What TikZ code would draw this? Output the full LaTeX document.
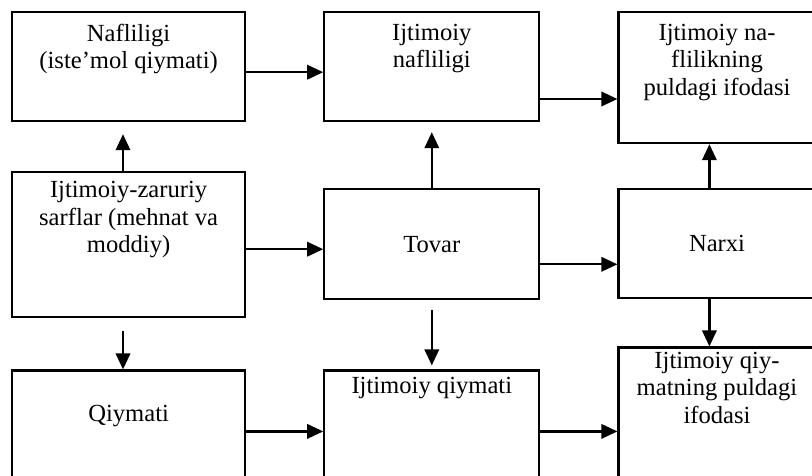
\documentclass[tikz,border=0pt]{standalone}
\usepackage{fontspec}
\setmainfont{Liberation Serif}
\usetikzlibrary{positioning,arrows.meta}

\begin{document}
\begin{tikzpicture}[
  font=\fontsize{17.5}{19.5}\selectfont,
  every node/.style={align=center},
  box/.style   ={rectangle, draw=black, line width=0.55mm, inner sep=0pt},
  wide/.style  ={box, minimum width=58.25mm},
  mid/.style   ={box, minimum width=53.75mm},
  narrow/.style={box, minimum width=49.25mm},
  txt/.style   ={inner sep=0pt},
  arrow/.style ={-{Triangle[length=4mm, width=3.6mm]}, line width=0.55mm},
]

\useasboundingbox (0,0) rectangle (203mm,-119mm);

% Top row
\node[wide,   minimum height=27.25mm, anchor=north west] (naf) at (2.75mm,-2.75mm) {};
\node[mid,    minimum height=27.25mm, right=19.25mm of naf] (ijnaf) {};
\node[narrow, minimum height=32.75mm, right=19.25mm of ijnaf.north east, anchor=north west] (ijnafpul) {};

% Middle row
\node[wide,   minimum height=36.25mm, below=12.25mm of naf]      (sarf)  {};
\node[mid,    minimum height=27.5mm,  below=16.5mm of ijnaf]     (tovar) {Tovar};
\node[narrow, minimum height=27.25mm, below=11mm of ijnafpul]    (narx)  {Narxi};

% Bottom row
\node[wide,   minimum height=27.25mm, below=12.75mm of sarf]  (qiym)      {};
\node[mid,    minimum height=27.25mm, below=17.25mm of tovar] (ijqiym)    {};
\node[narrow, minimum height=33mm,    below=11.75mm of narx]  (ijqiympul) {};

% -------- box texts -------------------------------------------------------
\node[txt, below=3.2mm of naf.north]       (naf-t)       {Nafliligi\\(iste'mol qiymati)};
\node[txt, below=3.2mm of ijnaf.north]     (ijnaf-t)     {Ijtimoiy\\nafliligi};
\node[txt, below=3.2mm of ijnafpul.north]  (ijnafpul-t)  {Ijtimoiy na-\\flilikning\\puldagi ifodasi};
\node[txt, below=2.5mm of sarf.north]      (sarf-t)      {Ijtimoiy-zaruriy\\sarflar (mehnat va\\moddiy)};
\node[txt, below=9mm of qiym.north]        (qiym-t)      {Qiymati};
\node[txt, below=2mm of ijqiym.north]      (ijqiym-t)    {Ijtimoiy qiymati};
\node[txt, below=1.4mm of ijqiympul.north] (ijqiympul-t) {Ijtimoiy qiy-\\matning puldagi\\ifodasi};

% Horizontal arrows
\draw[arrow] ([yshift=-1.4mm]naf.east)    -- ([yshift=-1.4mm]naf.east -| ijnaf.west);
\draw[arrow] ([yshift=-8.1mm]ijnaf.east)  -- ([yshift=-8.1mm]ijnaf.east -| ijnafpul.west);
\draw[arrow] ([yshift=-1.1mm]sarf.east)   -- ([yshift=-1.1mm]sarf.east -| tovar.west);
\draw[arrow] ([yshift=-5mm]tovar.east)    -- ([yshift=-5mm]tovar.east -| narx.west);
\draw[arrow] ([yshift=-1.6mm]qiym.east)   -- ([yshift=-1.6mm]qiym.east -| ijqiym.west);
\draw[arrow] ([yshift=-1.6mm]ijqiym.east) -- ([yshift=-1.6mm]ijqiym.east -| ijqiympul.west);

% Vertical arrows (up)
\draw[arrow, shorten >=3mm]   ([xshift=-1.4mm]sarf.north) -- ([xshift=-1.4mm]naf.south);
\draw[arrow, shorten >=2.5mm] (tovar.north) -- (ijnaf.south);
\draw[arrow]                  ([xshift=-1.9mm]narx.north) -- ([xshift=-1.9mm]ijnafpul.south);

% Vertical arrows (down)
\draw[arrow, shorten <=3.25mm] ([xshift=-1.4mm]sarf.south) -- ([xshift=-1.4mm]qiym.north);
\draw[arrow, shorten <=2.5mm, shorten >=1mm] (tovar.south) -- (ijqiym.north);
\draw[arrow]                   ([xshift=-1.9mm]narx.south) -- ([xshift=-1.9mm]ijqiympul.north);

\end{tikzpicture}
\end{document}
